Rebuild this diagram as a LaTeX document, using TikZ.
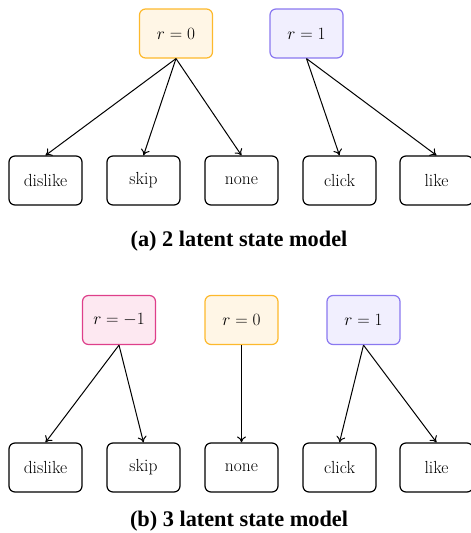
\documentclass[tikz,border=0pt]{standalone}
\usepackage{fontspec}
\newfontfamily\capfont{Liberation Serif}
\usetikzlibrary{arrows.meta}
\definecolor{zerofill}{HTML}{FFF6E6}
\definecolor{zerodraw}{HTML}{FDB92C}
\definecolor{onefill}{HTML}{F1EFFE}
\definecolor{onedraw}{HTML}{8A78F0}
\definecolor{negfill}{HTML}{FDE8F1}
\definecolor{negdraw}{HTML}{DE3F8A}
\tikzset{
  box/.style={draw, rounded corners=6pt, minimum width=73pt, minimum height=49pt,
    line width=1.2pt, inner sep=0pt, font=\fontsize{17.5}{20}\selectfont},
  obs/.style={box, draw=black},
  zst/.style={box, draw=zerodraw, fill=zerofill},
  ost/.style={box, draw=onedraw, fill=onefill},
  nst/.style={box, draw=negdraw, fill=negfill},
  edge/.style={-{To[length=6pt,width=9pt]}, line width=1pt},
  caption/.style={anchor=base, inner sep=0pt, font=\capfont\bfseries\fontsize{22.3}{26}\selectfont}
}
\begin{document}
\begin{tikzpicture}[x=1pt,y=-1pt]
\useasboundingbox (0,0) rectangle (471,533);
% two-state model
\node[zst] (a0) at (176,33.5) {$r=0$};
\node[ost] (a1) at (306.5,33.5) {$r=1$};
\node[obs] (adis) at (45.5,180.5) {dislike};
\node[obs] (askip) at (143.5,180.5) {skip};
\node[obs] (anone) at (241.5,180.5) {none};
\node[obs] (aclick) at (339.5,180.5) {click};
\node[obs] (alike) at (436.5,180.5) {like};
\draw[edge] (a0.south) -- (adis.north);
\draw[edge] (a0.south) -- (askip.north);
\draw[edge] (a0.south) -- (anone.north);
\draw[edge] (a1.south) -- (aclick.north);
\draw[edge] (a1.south) -- (alike.north);
\node[caption] (capa) at (239,246.5) {(a) 2 latent state model};
% three-state model
\node[nst] (bm) at (119,320) {$r=-1$};
\node[zst] (b0) at (241.5,320) {$r=0$};
\node[ost] (b1) at (363.5,320) {$r=1$};
\node[obs] (bdis) at (45.5,467.5) {dislike};
\node[obs] (bskip) at (143.5,467.5) {skip};
\node[obs] (bnone) at (241.5,467.5) {none};
\node[obs] (bclick) at (339.5,467.5) {click};
\node[obs] (blike) at (436.5,467.5) {like};
\draw[edge] (bm.south) -- (bdis.north);
\draw[edge] (bm.south) -- (bskip.north);
\draw[edge] (b0.south) -- (bnone.north);
\draw[edge] (b1.south) -- (bclick.north);
\draw[edge] (b1.south) -- (blike.north);
\node[caption] (capb) at (239,526.5) {(b) 3 latent state model};
\end{tikzpicture}
\end{document}
